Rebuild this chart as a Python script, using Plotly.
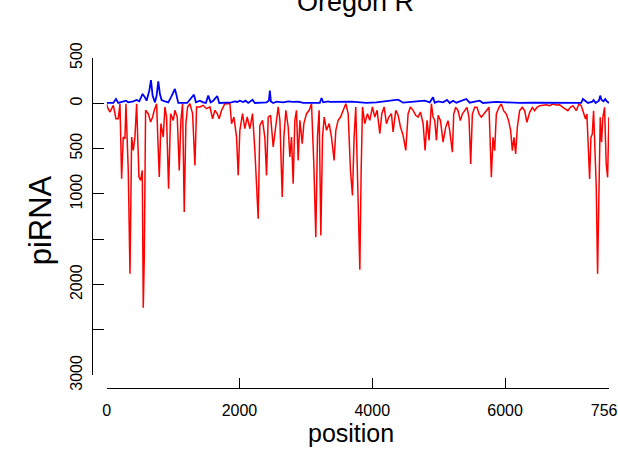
import plotly.graph_objects as go

# antisense (red, drawn below zero) and sense (blue) piRNA counts along the element
red_pos = [0, 9, 50, 100, 140, 175, 200, 225, 250, 275, 290, 325, 351, 376, 401, 426, 451, 486, 511, 536,
           551, 566, 586, 626, 662, 692, 717, 752, 777, 792, 817, 852, 877, 902, 932, 963, 1003, 1028, 1063, 1093,
           1118, 1143, 1168, 1193, 1218, 1254, 1294, 1329, 1354, 1404, 1454, 1504, 1555, 1595, 1630, 1665, 1695, 1730, 1780, 1856,
           1881, 1916, 1956, 1981, 2006, 2046, 2081, 2117, 2157, 2197, 2232, 2257, 2282, 2307, 2347, 2382, 2408, 2433, 2468, 2508,
           2558, 2583, 2609, 2644, 2669, 2699, 2734, 2759, 2784, 2809, 2834, 2859, 2884, 2910, 2945, 2970, 3010, 3050, 3085, 3120,
           3150, 3175, 3200, 3226, 3251, 3276, 3311, 3351, 3386, 3426, 3451, 3486, 3522, 3562, 3602, 3637, 3672, 3702, 3727, 3752,
           3788, 3813, 3833, 3853, 3888, 3928, 3963, 4003, 4038, 4073, 4114, 4144, 4179, 4214, 4249, 4289, 4314, 4354, 4390, 4425,
           4465, 4505, 4540, 4575, 4615, 4655, 4690, 4726, 4766, 4796, 4826, 4856, 4891, 4916, 4941, 4967, 4992, 5027, 5067,
           5106, 5141, 5167, 5207, 5227, 5257, 5292, 5327, 5357, 5392, 5427, 5457, 5483, 5508, 5543, 5578, 5608, 5643, 5678, 5718,
           5759, 5794, 5819, 5844, 5869, 5909, 5944, 5979, 6019, 6054, 6085, 6110, 6135, 6160, 6185, 6220, 6260, 6295, 6330, 6371,
           6411, 6446, 6481, 6521, 6571, 6621, 6672, 6722, 6772, 6822, 6872, 6912, 6947, 6983, 7023, 7073, 7113, 7148, 7183, 7213,
           7233, 7253, 7274, 7294, 7314, 7334, 7354, 7374, 7394, 7414, 7434, 7454, 7474, 7499, 7524, 7545, 7565]
red_val = [10, 40, 96, 22, 170, 170, 4, 832, 372, 390, 4, 740, 1880, 372, 519, 372, 4, 813, 850, 740,
           2256, 1715, 77, 114, 206, 151, 77, 4, 519, 813, 224, 372, 40, 151, 942, 114, 188, 77, 151, 740,
           188, 4, 1200, 224, 40, 4, 114, 685, 40, 40, 22, 59, 40, 170, 77, 114, 170, 77, 4, 4,
           224, 151, 372, 795, 298, 114, 280, 151, 280, 114, 519, 924, 1273, 243, 188, 372, 795, 151, 132, 482,
           151, 40, 188, 1034, 372, 77, 261, 592, 372, 887, 188, 77, 629, 188, 445, 224, 114, 77, 4, 666,
           1476, 372, 77, 1457, 372, 151, 298, 224, 372, 629, 298, 188, 151, 77, 4, 114, 740, 1016, 372, 40,
           1181, 1836, 740, 40, 224, 114, 188, 40, 151, 77, 335, 114, 40, 224, 151, 114, 316, 77, 132, 261,
           353, 519, 114, 40, 77, 132, 151, 96, 224, 519, 188, 408, 4, 151, 188, 408, 132, 188, 427,
           265, 191, 301, 540, 118, 44, 81, 191, 118, 81, 44, 154, 669, 118, 44, 44, 118, 154, 118, 81,
           44, 816, 375, 522, 118, 44, 7, 81, 118, 191, 301, 522, 375, 558, 265, 81, 44, 81, 209, 99,
           44, 81, 44, 26, 18, 15, 26, 7, 18, 15, 44, 62, 81, 44, 26, 81, 7, 26, 118, 173,
           118, 522, 834, 375, 338, 81, 522, 926, 1881, 742, 154, 430, 154, 44, 669, 816, 154]

blue_pos = [0, 9, 100, 140, 175, 290, 325, 401, 451, 491, 541, 576, 601, 642, 667, 692, 727, 752, 777, 802,
            827, 877, 928, 968, 1003, 1028, 1053, 1078, 1213, 1314, 1344, 1404, 1454, 1494, 1530, 1565, 1605, 1630, 1665, 1695,
            1881, 1931, 1966, 2006, 2056, 2091, 2132, 2197, 2232, 2408, 2443, 2458, 2473, 2508, 2558, 2659, 2734, 2809, 2884, 2960,
            3210, 3236, 3261, 3336, 3361, 3687, 3913, 4063, 4164, 4390, 4465, 4741, 4791, 4866, 4916, 4941, 4992, 5067, 5126, 5167,
            5217, 5267, 5317, 5417, 5467, 5618, 5668, 5869, 6019, 6220, 6421, 6922, 7148, 7173, 7213, 7249, 7314, 7334, 7364, 7414,
            7434, 7454, 7484, 7509, 7534, 7565]
blue_val = [4, 4, 4, 48, 4, 29, 11, 22, 37, 22, 103, 66, 29, 140, 257, 85, 11, 85, 242, 103,
            37, 22, 11, 66, 121, 158, 85, 4, 4, 96, 11, 29, 11, 4, 85, 11, 29, 48, 81, 4,
            11, 22, 15, 29, 15, 29, 4, 40, 4, 11, 30, 140, 20, 4, 18, 11, 22, 15, 18, 4,
            4, 59, 11, 22, 15, 18, 4, 11, 18, 40, 7, 22, 29, 11, 66, 7, 22, 11, 37, 4,
            29, 7, 18, 48, 7, 29, 4, 15, 11, 4, 7, 4, 4, 48, 22, 4, 18, 37, 4, 29,
            85, 37, 22, 48, 22, 4]

x_ticks = [0, 2000, 4000, 6000, 7560]
x_ticktext = ["0", "2000", "4000", "6000", "7560"]
y_ticks = [500, 0, -500, -1000, -1500, -2000, -2500, -3000]
y_ticktext = ["500", "0", "500", "1000", "", "2000", "", "3000"]

FONT = "Liberation Sans, Arial, Helvetica, sans-serif"

fig = go.Figure()
fig.add_trace(go.Scatter(x=red_pos, y=[-v for v in red_val], mode="lines",
                         line=dict(color="#ff0000", width=1.5)))
fig.add_trace(go.Scatter(x=blue_pos, y=blue_val, mode="lines",
                         line=dict(color="#0000ff", width=1.8)))

# R-style detached axes: each axis line spans only its tick range
fig.update_xaxes(range=[0, 7566], domain=[0.0284, 1], anchor="free", position=0,
                 showgrid=False, zeroline=False, showline=True, linecolor="black", linewidth=1.3,
                 tickmode="array", tickvals=x_ticks, ticktext=x_ticktext,
                 ticks="inside", ticklen=10, tickwidth=1.4, tickcolor="black",
                 ticklabeloverflow="allow",
                 ticklabelstandoff=8, tickfont=dict(size=16, color="black"))
fig.update_yaxes(range=[-3000, 500], domain=[0.0385, 1], anchor="free", position=0,
                 showgrid=False, zeroline=False, showline=True, linecolor="black", linewidth=1.3,
                 tickmode="array", tickvals=y_ticks, ticktext=y_ticktext,
                 ticks="inside", ticklen=11, tickwidth=1.4, tickcolor="black",
                 tickangle=-90, ticklabelstandoff=3, tickfont=dict(size=16, color="black"))

fig.add_annotation(text="Oregon R", xref="paper", yref="paper", x=0.51, y=1.170,
                   xanchor="center", yanchor="middle", showarrow=False,
                   font=dict(size=27, color="black"))
fig.add_annotation(text="position", xref="paper", yref="paper", x=0.501, y=-0.135,
                   xanchor="center", yanchor="middle", showarrow=False,
                   font=dict(size=25, color="black"))
fig.add_annotation(text="piRNA", xref="paper", yref="paper", x=-0.1, y=0.509,
                   xanchor="center", yanchor="middle", showarrow=False, textangle=-90,
                   font=dict(size=31, color="black"))

fig.update_layout(width=618, height=449, margin=dict(l=92, r=9, t=58, b=61, autoexpand=False),
                  showlegend=False, plot_bgcolor="white", paper_bgcolor="white",
                  font=dict(family=FONT, color="black"))

fig.write_html("out.html", config={"displayModeBar": False},
               post_script="document.body.style.margin='0';")
